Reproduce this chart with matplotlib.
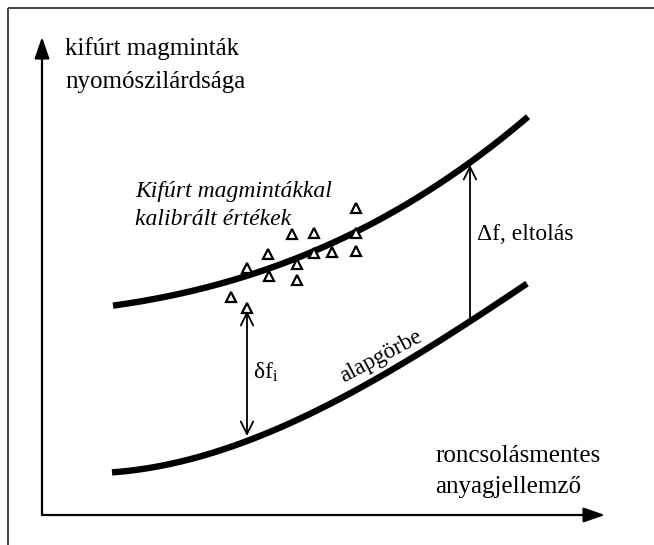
import matplotlib
matplotlib.use("Agg")
import matplotlib.pyplot as plt
import numpy as np

plt.rcParams['font.family'] = ['Liberation Serif', 'DejaVu Serif']
plt.rcParams['mathtext.fontset'] = 'custom'
plt.rcParams['mathtext.rm'] = 'Liberation Serif'
plt.rcParams['mathtext.it'] = 'Liberation Serif:italic'

# ---- data (schematic units, origin at the axis corner) ----
curve_x_upper = [71, 158, 205, 255, 291, 315, 358, 398, 428, 486]
curve_y_upper = [208, 229, 241, 256, 269, 280, 308, 335, 355, 396]

curve_x_lower = [70, 138, 205, 258, 291, 328, 358, 398, 428, 485]
curve_y_lower = [41, 57, 74, 94, 111, 132, 151, 176, 195, 230]

sample_x = [314, 250, 272, 314, 226, 272, 290, 314, 205, 255, 227, 255, 189, 205]
sample_y = [307, 281, 282, 282, 261, 262, 263, 264, 247, 251, 239, 235, 218, 207]

y_label = ["kifúrt magminták", "nyomószilárdsága"]
x_label = ["roncsolásmentes", "anyagjellemző"]
calib_label = ["Kifúrt magmintákkal", "kalibrált értékek"]
base_label = "alapgörbe"
shift_label = "Δf, eltolás"
dev_label = r"δf$_{\rm i}$"


def smooth(xs, ys):
    """Draw a smooth stroke through the read points (cubic least-squares)."""
    c = np.polyfit(xs, ys, 3)
    xx = np.linspace(min(xs), max(xs), 200)
    return xx, np.polyval(c, xx)


# ---- figure ----
W, H = 654, 545
fig = plt.figure(figsize=(W / 100, H / 100), dpi=100)
ax = fig.add_axes([0, 0, 1, 1])
ax.set_xlim(-42, W - 42)
ax.set_ylim(515 - H, 515)
ax.axis('off')

# outer frame (top and left edges only visible)
ax.plot([-34, W - 42], [507, 507], color='#444444', lw=1.4, solid_capstyle='butt')
ax.plot([-34, -34], [507, 515 - H], color='#444444', lw=1.4, solid_capstyle='butt')

# axes arrows
ax.annotate('', xy=(0, 478), xytext=(0, 0),
            arrowprops=dict(arrowstyle='-|>,head_length=1.3,head_width=0.45',
                            color='black', lw=1.6, shrinkA=0, shrinkB=0))
ax.annotate('', xy=(563, 0), xytext=(0, 0),
            arrowprops=dict(arrowstyle='-|>,head_length=1.3,head_width=0.45',
                            color='black', lw=1.6, shrinkA=0, shrinkB=0))

# curves
ux, uy = smooth(curve_x_upper, curve_y_upper)
lx, ly = smooth(curve_x_lower, curve_y_lower)
ax.plot(ux, uy, color='black', lw=4.6, solid_capstyle='butt', solid_joinstyle='round')
ax.plot(lx, ly, color='black', lw=4.6, solid_capstyle='butt', solid_joinstyle='round')

# calibration samples
ax.plot(sample_x, sample_y, linestyle='none', marker='^', ms=6.5,
        mfc='white', mec='black', mew=1.6)

# delta f_i double arrow (from one sample down to the base curve)
ax.annotate('', xy=(sample_x[-1], curve_y_lower[2] + 5),
            xytext=(sample_x[-1], sample_y[-1] - 3),
            arrowprops=dict(arrowstyle='<->,head_length=0.9,head_width=0.45',
                            color='black', lw=1.3, shrinkA=0, shrinkB=0))
ax.text(211, 143, dev_label, fontsize=17, va='center', ha='left')

# Delta f shift arrow
ax.annotate('', xy=(428, 350), xytext=(428, 197),
            arrowprops=dict(arrowstyle='->,head_length=0.9,head_width=0.45',
                            color='black', lw=1.3, shrinkA=0, shrinkB=0))
ax.text(435, 280, shift_label, fontsize=17, va='center', ha='left')

# texts
ax.text(23, 460, y_label[0], fontsize=18, va='baseline', ha='left')
ax.text(23, 427, y_label[1], fontsize=18, va='baseline', ha='left')
ax.text(393, 53, x_label[0], fontsize=18, va='baseline', ha='left')
ax.text(393, 22, x_label[1], fontsize=18, va='baseline', ha='left')
ax.text(93, 318, calib_label[0], fontsize=17, style='italic', va='baseline', ha='left')
ax.text(93, 290, calib_label[1], fontsize=17, style='italic', va='baseline', ha='left')
ax.text(339, 158, base_label, fontsize=16.5, rotation=28, va='center', ha='center',
        rotation_mode='anchor')

fig.savefig('out.png', dpi=100)
